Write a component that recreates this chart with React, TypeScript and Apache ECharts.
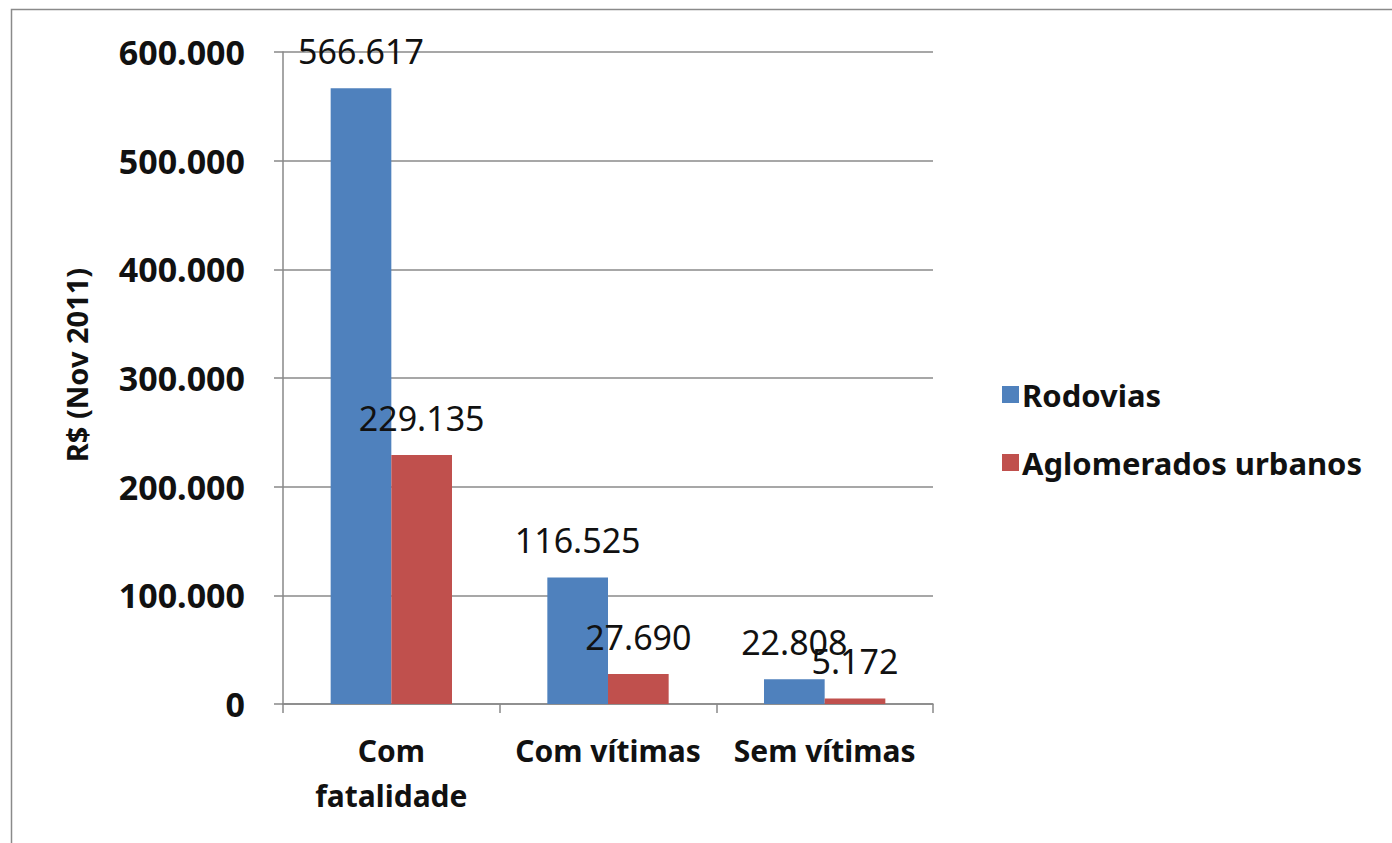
import React, { useEffect, useRef } from "react";
import * as echarts from "echarts";

const categories = ["Com\nfatalidade", "Com vítimas", "Sem vítimas"];
const rodovias = [566617, 116525, 22808];
const aglomerados = [229135, 27690, 5172];
const seriesNames = ["Rodovias", "Aglomerados urbanos"];
const yTicks = [0, 100000, 200000, 300000, 400000, 500000, 600000];
const yTitle = "R$ (Nov 2011)";

const fmt = (v: number) => (v === 0 ? "0" : v.toLocaleString("de-DE"));

export default function App() {
  const ref = useRef<HTMLDivElement>(null);
  useEffect(() => {
    if (!ref.current) return;
    const chart = echarts.init(ref.current, null, { renderer: "svg" });
    const font = "Noto Sans";
    const labelCommon = {
      show: true,
      position: "top" as const,
      distance: 20,
      fontFamily: font,
      fontSize: 34,
      color: "#111",
      formatter: (p: any) => fmt(p.value),
    };
    chart.setOption({
      animation: false,
      backgroundColor: "#fff",
      graphic: [
        {
          type: "rect",
          shape: { x: 11.5, y: 9.5, width: 1420, height: 900 },
          style: { fill: "none", stroke: "#8a8a8a", lineWidth: 1.5 },
        },
        {
          type: "text",
          x: 76,
          y: 365,
          rotation: Math.PI / 2,
          style: {
            text: yTitle,
            fontFamily: font,
            fontSize: 29,
            fontWeight: "bold",
            fill: "#111",
            align: "center",
            verticalAlign: "middle",
          },
        },
      ],
      grid: { left: 283, right: 459, top: 52, bottom: 139, containLabel: false },
      legend: {
        orient: "vertical",
        left: 997,
        top: 374,
        itemWidth: 17,
        itemHeight: 17,
        itemGap: 37,
        icon: "rect",
        textStyle: { fontFamily: font, fontSize: 31, fontWeight: "bold", color: "#111", padding: [0, 0, 0, -2] },
        data: seriesNames,
      },
      xAxis: {
        type: "category",
        data: categories,
        axisLine: { lineStyle: { color: "#888", width: 1.5 } },
        axisTick: { show: true, length: 9, lineStyle: { color: "#888", width: 1.5 } },
        axisLabel: {
          margin: 24,
          fontFamily: font,
          fontSize: 30,
          fontWeight: "bold",
          color: "#111",
          lineHeight: 45,
          interval: 0,
        },
      },
      yAxis: {
        type: "value",
        min: 0,
        max: 600000,
        interval: 100000,
        axisLine: { show: true, lineStyle: { color: "#888", width: 1.5 } },
        axisTick: { show: true, length: 9, lineStyle: { color: "#888", width: 1.5 } },
        splitLine: { lineStyle: { color: "#8a8a8a", width: 1.5 } },
        axisLabel: {
          margin: 38,
          fontFamily: font,
          fontSize: 34,
          fontWeight: "bold",
          color: "#111",
          formatter: (v: number) => (yTicks.includes(v) ? fmt(v) : ""),
        },
      },
      series: [
        {
          name: seriesNames[0],
          type: "bar",
          data: rodovias,
          barGap: "0%",
          barCategoryGap: "44%",
          itemStyle: { color: "#4F81BD" },
          label: labelCommon,
        },
        {
          name: seriesNames[1],
          type: "bar",
          data: aglomerados,
          itemStyle: { color: "#C0504D" },
          label: labelCommon,
        },
      ],
    });
    return () => chart.dispose();
  }, []);
  return (
    <div
      ref={ref}
      style={{ position: "fixed", left: 0, top: 0, width: 1392, height: 843 }}
    />
  );
}
